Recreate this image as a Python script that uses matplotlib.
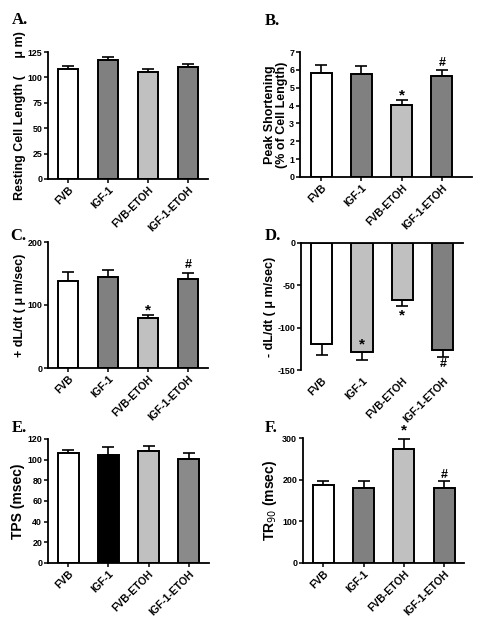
import matplotlib
matplotlib.use('Agg')
import matplotlib.pyplot as plt

plt.rcParams['font.family'] = ['Liberation Sans', 'DejaVu Sans']
plt.rcParams['axes.unicode_minus'] = False

groups = ['FVB', 'IGF-1', 'FVB-ETOH', 'IGF-1-ETOH']

# panel A - resting cell length
rcl_mean = [108.5, 117.4, 105.2, 109.8]
rcl_err = [2.5, 3.0, 2.6, 3.3]
# panel B - peak shortening
ps_mean = [5.84, 5.78, 4.02, 5.65]
ps_err = [0.43, 0.41, 0.28, 0.32]
# panel C - +dL/dt
pdl_mean = [138, 144.7, 78.7, 141.5]
pdl_err = [13.6, 10.6, 5.3, 9.0]
# panel D - -dL/dt
ndl_mean = [-118.9, -129.0, -67.7, -126.8]
ndl_err = [13.0, 9.6, 6.3, 7.8]
# panel E - TPS
tps_mean = [106.1, 104.8, 108.4, 100.6]
tps_err = [2.9, 7.2, 4.5, 5.5]
# panel F - TR90
tr_mean = [187.4, 179.4, 273.5, 181.0]
tr_err = [10.5, 17.6, 23.3, 15.3]

DARK = '#808080'
LIGHT = '#c0c0c0'
std_colors = ['white', DARK, LIGHT, DARK]

W, H = 483, 627
fig = plt.figure(figsize=(W / 100, H / 100), dpi=100)


def px_axes(left, top, right, bottom):
    return fig.add_axes([left / W, 1 - bottom / H, (right - left) / W, (bottom - top) / H])


def draw(ax, means, errs, colors, xlim, ylim, yticks, neg=False):
    x = range(len(means))
    ax.bar(x, means, width=0.52, color=colors, edgecolor='black', linewidth=1.4, zorder=2)
    if neg:
        yerr = [errs, [0] * len(errs)]
    else:
        yerr = [[0] * len(errs), errs]
    ax.errorbar(x, means, yerr=yerr, fmt='none', ecolor='black', elinewidth=1.2,
                capsize=4.5, capthick=1.2, zorder=1)
    ax.set_xlim(*xlim)
    ax.set_ylim(*ylim)
    ax.set_yticks(yticks)
    ax.set_xticks(list(x))
    ax.set_xticklabels(groups, rotation=45, ha='right', rotation_mode='anchor',
                       fontsize=7.5, fontweight='bold')
    for lab in ax.get_yticklabels():
        lab.set_fontsize(6.4)
        lab.set_fontweight('bold')
    ax.spines['right'].set_visible(False)
    ax.spines['top'].set_visible(False)
    ax.spines['left'].set_linewidth(1.3)
    ax.spines['bottom'].set_linewidth(1.3)
    ax.tick_params(axis='both', direction='out', length=3, width=1.1, pad=1.2)


def mark(ax, xi, y, s):
    ax.text(xi, y, s, ha='center', va='center', fontsize=11 if s == '*' else 9,
            fontweight='bold')


def panel_label(x, y, s):
    fig.text(x / W, 1 - y / H, s, family='Liberation Serif', fontweight='bold',
             fontsize=12, ha='left', va='center')


# A
axA = px_axes(48, 52, 208, 179)
draw(axA, rcl_mean, rcl_err, std_colors, (-0.5, 3.5), (0, 125), [0, 25, 50, 75, 100, 125])
axA.set_ylabel('Resting Cell Length (     μ m)', fontsize=9, fontweight='bold', labelpad=1)
panel_label(12, 20, 'A.')

# B
axB = px_axes(300, 52, 472, 177)
draw(axB, ps_mean, ps_err, std_colors, (-0.53, 3.75), (0, 7), range(8))
axB.set_ylabel('Peak Shortening\n(% of Cell Length)', fontsize=9, fontweight='bold',
               labelpad=1, linespacing=0.95)
mark(axB, 2, 4.55, '*')
mark(axB, 3, 6.4, '#')
panel_label(265, 21, 'B.')

# C
axC = px_axes(48, 242, 208, 368)
draw(axC, pdl_mean, pdl_err, std_colors, (-0.5, 3.5), (0, 200), [0, 100, 200])
axC.set_ylabel('+ dL/dt ( μ m/sec)', fontsize=9, fontweight='bold', labelpad=1)
mark(axC, 2, 91, '*')
mark(axC, 3, 164, '#')
panel_label(10, 236, 'C.')

# D
axD = px_axes(301, 243, 463, 370)
draw(axD, ndl_mean, ndl_err, ['white', LIGHT, LIGHT, DARK], (-0.51, 3.5), (-150, 0),
     [0, -50, -100, -150], neg=True)
axD.spines['bottom'].set_visible(False)
axD.spines['top'].set_visible(True)
axD.spines['top'].set_linewidth(1.3)
axD.tick_params(axis='x', length=0, pad=4)
axD.set_ylabel('- dL/dt ( μ m/sec)', fontsize=9, fontweight='bold', labelpad=1)
mark(axD, 1, -120, '*')
mark(axD, 2, -86, '*')
mark(axD, 3, -143, '#')
panel_label(265, 236, 'D.')

# E
axE = px_axes(48, 439, 209, 563)
draw(axE, tps_mean, tps_err, ['white', 'black', LIGHT, '#8a8a8a'], (-0.5, 3.5), (0, 120),
     range(0, 121, 20))
axE.set_ylabel('TPS (msec)', fontsize=10, fontweight='bold', labelpad=2)
panel_label(12, 428, 'E.')

# F
axF = px_axes(303, 438, 464, 563)
draw(axF, tr_mean, tr_err, std_colors, (-0.5, 3.49), (0, 300), [0, 100, 200, 300])
axF.set_ylabel('TR$_{90}$ (msec)', fontsize=10, fontweight='bold', labelpad=2)
mark(axF, 2, 318, '*')
mark(axF, 3, 212, '#')
panel_label(265, 428, 'F.')

fig.savefig('out.png', dpi=100, facecolor='white')
